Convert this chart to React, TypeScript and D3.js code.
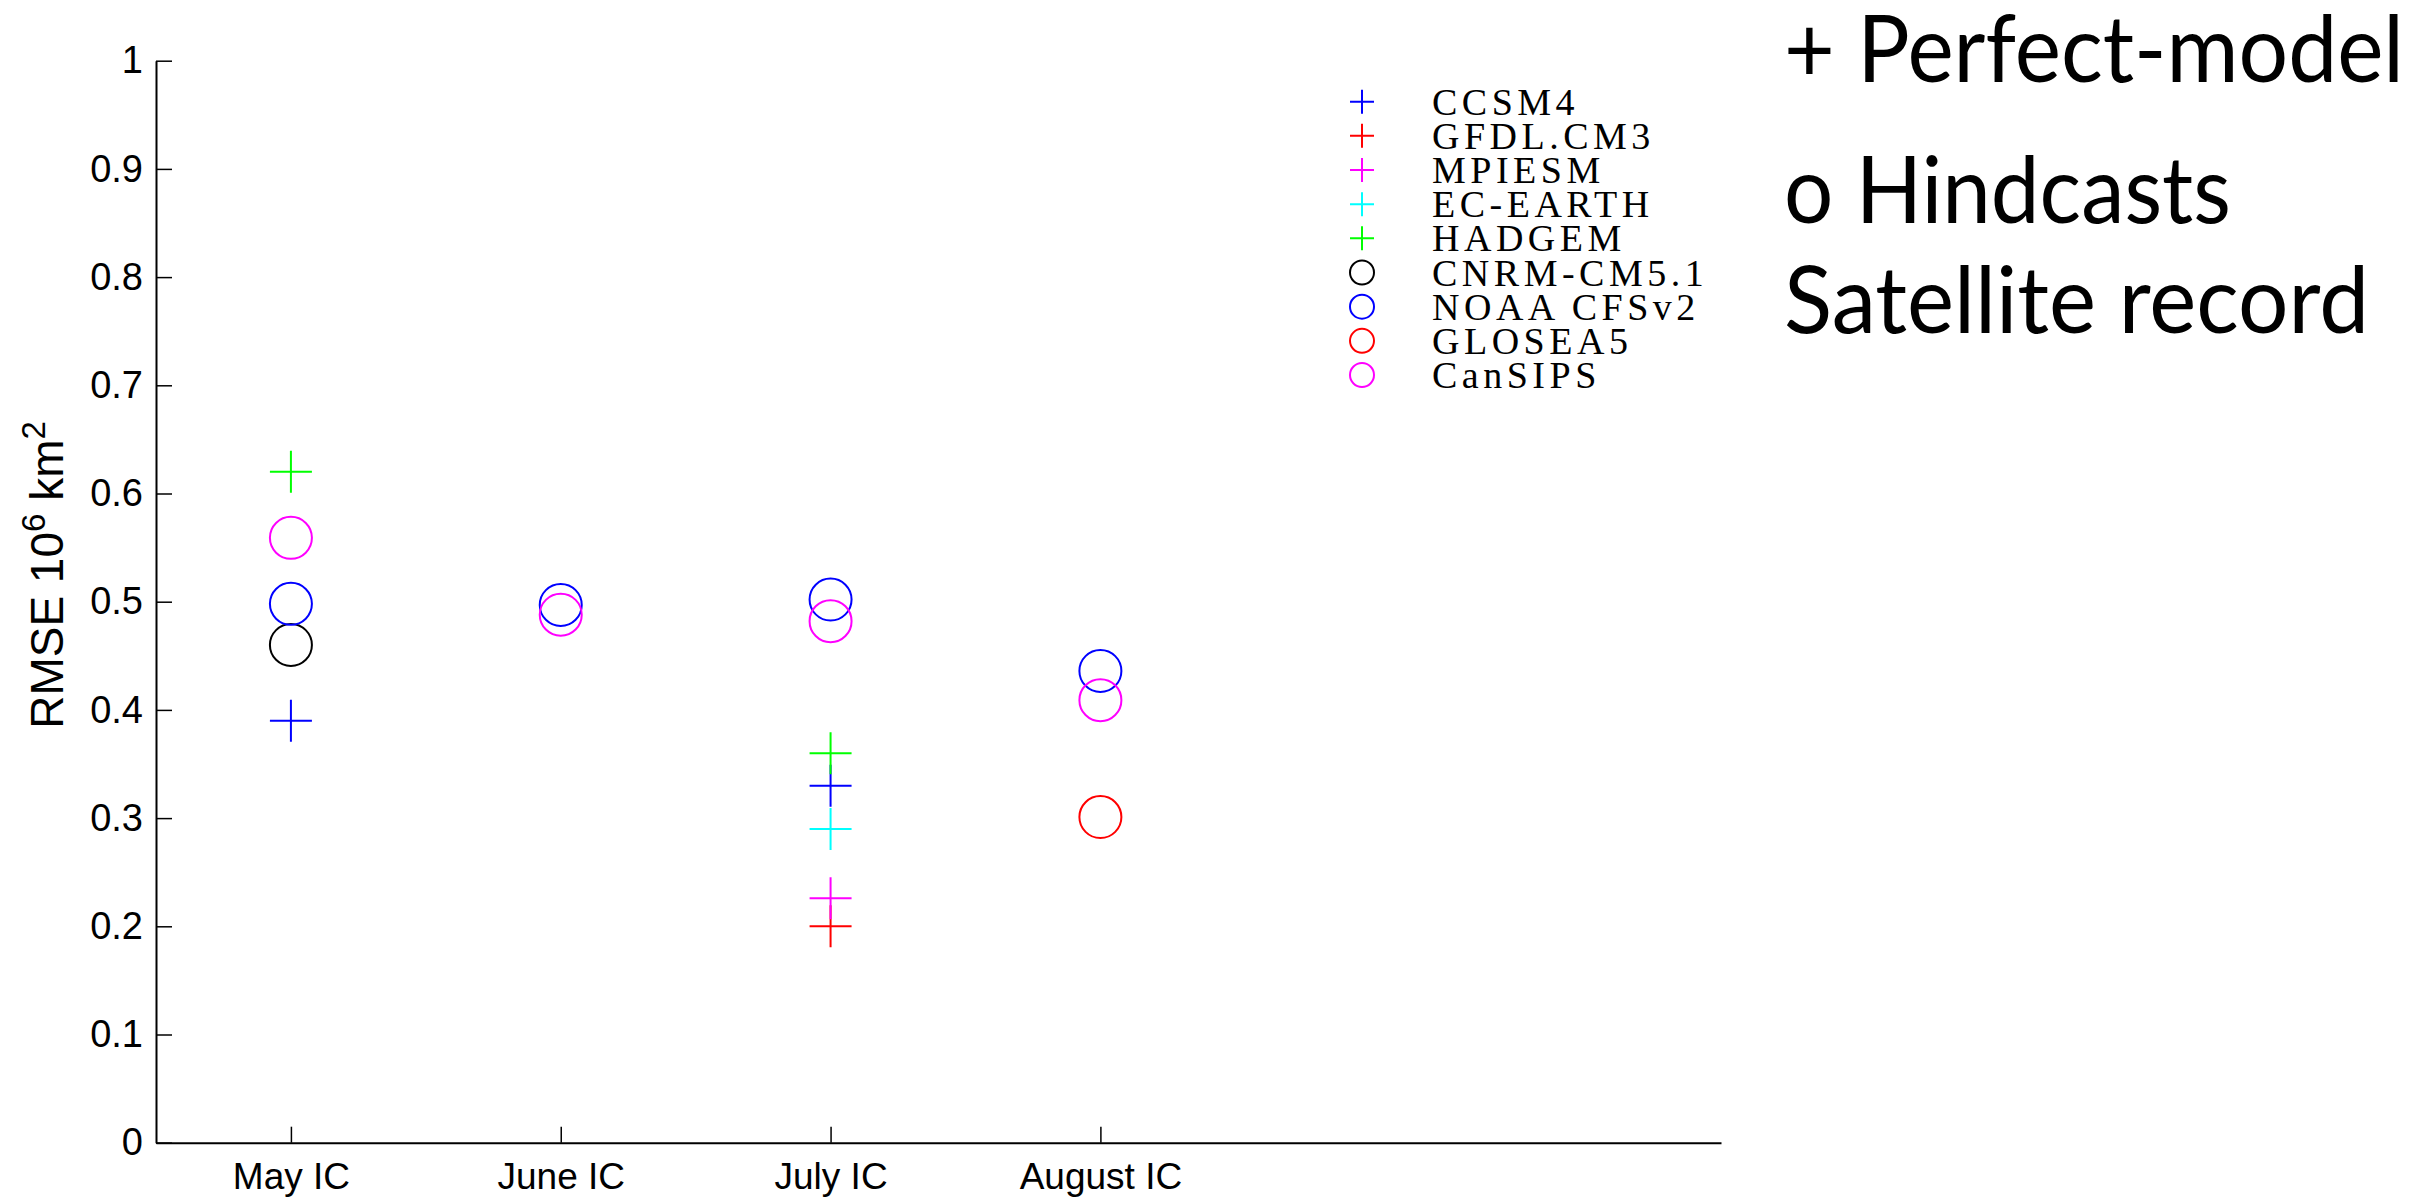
import { useCallback } from "react";
import * as d3 from "d3";

// initial-condition months on the x axis
const categories = ["May IC", "June IC", "July IC", "August IC"];
const yTicks = [0, 0.1, 0.2, 0.3, 0.4, 0.5, 0.6, 0.7, 0.8, 0.9, 1];

const models = ["CCSM4", "GFDL.CM3", "MPIESM", "EC-EARTH", "HADGEM", "CNRM-CM5.1", "NOAA CFSv2", "GLOSEA5", "CanSIPS"];
const modelColors = ["#0000ff", "#ff0000", "#ff00ff", "#00ffff", "#00ff00", "#000000", "#0000ff", "#ff0000", "#ff00ff"];
const modelMarkers = ["+", "+", "+", "+", "+", "o", "o", "o", "o"];

// RMSE per model for May, June, July, August IC (null = no value)
const ccsm4 = [0.39, null, 0.33, null];
const gfdl = [null, null, 0.2, null];
const mpiesm = [null, null, 0.226, null];
const ecEarth = [null, null, 0.29, null];
const hadgem = [0.62, null, 0.36, null];
const cnrm = [0.46, null, null, null];
const noaa = [0.498, 0.497, 0.502, 0.436];
const glosea = [null, null, null, 0.301];
const cansips = [0.559, 0.488, 0.482, 0.409];
const modelValues = [ccsm4, gfdl, mpiesm, ecEarth, hadgem, cnrm, noaa, glosea, cansips];

const notes = ["+ Perfect-model", "o Hindcasts", "Satellite record"];

const App = () => {
    const width = 2431;
    const height = 1198;

    const draw = useCallback((node) => {
        if (node == null) return;
        const root = d3.select(node);
        root.selectAll("*").remove();

        const svg = root.append("svg")
            .attr("width", width)
            .attr("height", height)
            .attr("viewBox", [0, 0, width, height])
            .style("position", "absolute")
            .style("left", 0)
            .style("top", 0)
            .style("background", "#fff");

        const marginLeft = 156;
        const plotRight = 1721;
        const plotTop = 60.7;
        const plotBottom = 1142.7;

        const xScale = d3.scaleLinear([0.5, 6.3], [marginLeft, plotRight]);
        const yScale = d3.scaleLinear([0, 1], [plotBottom, plotTop]);

        const xAxis = d3.axisBottom(xScale)
            .tickValues([1, 2, 3, 4])
            .tickFormat((d) => categories[d - 1])
            .tickSizeInner(-16)
            .tickSizeOuter(0)
            .tickPadding(20);

        const yAxis = d3.axisLeft(yScale)
            .tickValues(yTicks)
            .tickFormat((d) => String(d))
            .tickSizeInner(-16)
            .tickSizeOuter(0)
            .tickPadding(13);

        const gx = svg.append("g")
            .attr("transform", `translate(0,${plotBottom})`)
            .call(xAxis);
        gx.selectAll("text").attr("font-size", 37).attr("font-family", "'Liberation Sans', Arial, sans-serif").attr("fill", "#000");

        const gy = svg.append("g")
            .attr("transform", `translate(${marginLeft},0)`)
            .call(yAxis);
        gy.selectAll("text").attr("font-size", 38).attr("font-family", "'Liberation Sans', Arial, sans-serif").attr("fill", "#000");

        svg.selectAll(".domain").attr("stroke", "#000").attr("stroke-width", 2);
        svg.selectAll(".tick line").attr("stroke", "#000").attr("stroke-width", 1.5);

        // y label
        const yl = svg.append("text")
            .attr("transform", `translate(63,575) rotate(-90)`)
            .attr("text-anchor", "middle")
            .attr("font-family", "'Liberation Sans', Arial, sans-serif")
            .attr("font-size", 46)
            .attr("fill", "#000");
        yl.append("tspan").text("RMSE 10");
        yl.append("tspan").attr("dy", -18).attr("font-size", 33).text("6");
        yl.append("tspan").attr("dy", 18).text(" km");
        yl.append("tspan").attr("dy", -18).attr("font-size", 33).text("2");

        const drawMarker = (g, type, cx, cy, size, color) => {
            if (type === "+") {
                g.append("path")
                    .attr("d", `M${cx - size},${cy}H${cx + size}M${cx},${cy - size}V${cy + size}`)
                    .attr("stroke", color)
                    .attr("stroke-width", 2)
                    .attr("fill", "none");
            } else {
                g.append("circle")
                    .attr("cx", cx)
                    .attr("cy", cy)
                    .attr("r", size)
                    .attr("stroke", color)
                    .attr("stroke-width", 2)
                    .attr("fill", "none");
            }
        };

        // data markers
        const marks = svg.append("g");
        modelValues.forEach((vals, m) => {
            vals.forEach((v, i) => {
                if (v == null) return;
                drawMarker(marks, modelMarkers[m], xScale(i + 1), yScale(v), 21, modelColors[m]);
            });
        });

        // legend
        const legend = svg.append("g");
        const rowY = d3.scaleLinear([0, models.length - 1], [101.7, 375]);
        models.forEach((name, m) => {
            drawMarker(legend, modelMarkers[m], 1362, rowY(m), 12, modelColors[m]);
            legend.append("text")
                .attr("x", 1432)
                .attr("y", rowY(m) + 13)
                .attr("font-family", "'Liberation Serif', 'Times New Roman', serif")
                .attr("font-size", 38)
                .attr("letter-spacing", 4.5)
                .attr("fill", "#000")
                .text(name);
        });

        // notes on the right
        const noteY = [81.7, 223, 333];
        const noteW = [620, 447, 585];
        notes.forEach((t, i) => {
            svg.append("text")
                .attr("x", 1784)
                .attr("y", noteY[i])
                .attr("font-family", "Lato, 'Open Sans', sans-serif")
                .attr("font-size", 93)
                .attr("textLength", noteW[i])
                .attr("lengthAdjust", "spacingAndGlyphs")
                .attr("fill", "#000")
                .text(t);
        });
    }, []);

    return <div ref={draw}></div>;
};

export default App;
